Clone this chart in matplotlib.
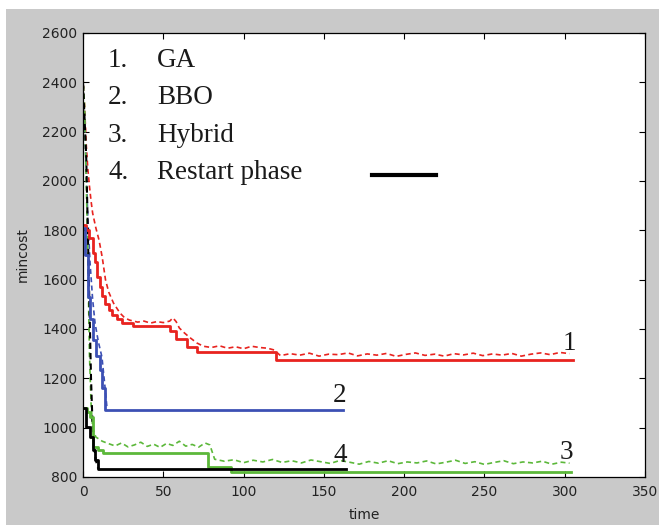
import matplotlib
matplotlib.use("Agg")
import matplotlib.pyplot as plt
from matplotlib.patches import Rectangle

# GA (red)
ga_best_x = [0.5, 2, 4, 6, 7.5, 9, 10.6, 12, 14, 16, 18, 21, 24, 31, 54, 58, 65, 71, 120, 305]
ga_best_y = [1820, 1800, 1770, 1710, 1670, 1610, 1570, 1535, 1500, 1475, 1458, 1440, 1425, 1412, 1390, 1360, 1328, 1305, 1275, 1275]
ga_mean_x = [0, 1, 2, 3, 4, 5, 6, 8, 10, 12, 14, 16, 19, 23, 26, 29, 34, 38, 42, 46, 50, 54, 56, 58, 60, 63, 66, 71, 75, 80, 85, 90, 95, 100, 105, 110, 115, 119,
             123, 129, 135, 141, 147, 153, 159, 165, 171, 177, 183, 189, 195, 201, 207, 213, 219, 225, 231, 237, 243, 249, 255, 261, 267, 273, 279, 285, 291, 297, 303]
ga_mean_y = [2420, 2300, 2150, 2050, 1980, 1920, 1870, 1810, 1760, 1690, 1600, 1550, 1505, 1465, 1445, 1436, 1428, 1432, 1424, 1430, 1426, 1432, 1445, 1430, 1404, 1385, 1368, 1343, 1330, 1325, 1332, 1322, 1328, 1320, 1330, 1325, 1322, 1315,
             1292, 1300, 1294, 1302, 1290, 1298, 1296, 1303, 1291, 1299, 1294, 1301, 1289, 1297, 1303, 1293, 1298, 1290, 1300, 1295, 1302, 1292, 1299, 1294, 1301, 1290, 1298, 1303, 1296, 1305, 1300]

# BBO (blue)
bbo_best_x = [0.5, 1.5, 3, 4.5, 6.2, 8, 10.6, 12, 13.7, 162]
bbo_best_y = [1810, 1700, 1530, 1440, 1355, 1290, 1234, 1160, 1072, 1072]
bbo_mean_x = [0, 1, 2, 3, 4.4, 6, 7.5, 9.5, 11.8, 13.7, 15]
bbo_mean_y = [2420, 2250, 2050, 1850, 1667, 1520, 1424, 1350, 1286, 1165, 1076]

# Hybrid (green)
hyb_best_x = [0.3, 2.5, 4.4, 6.2, 9.3, 12.5, 78, 92, 304]
hyb_best_y = [1080, 1063, 1043, 920, 909, 898, 840, 822, 822]
hyb_mean_x = [0, 1, 2, 3, 4, 5, 6, 8, 12, 16, 20, 24, 28, 32, 36, 40, 44, 48, 52, 56, 60, 64, 68, 72, 76, 79,
              82, 88, 94, 100, 106, 112, 118, 124, 130, 136, 142, 148, 154, 160, 166, 172, 178, 184, 190, 196, 202, 208,
              214, 220, 226, 232, 238, 244, 250, 256, 262, 268, 274, 280, 286, 292, 298, 303]
hyb_mean_y = [2420, 2300, 2000, 1700, 1300, 1100, 1000, 962, 945, 935, 926, 938, 922, 930, 941, 924, 933, 920, 936, 928, 945, 925, 932, 921, 938, 930,
              872, 864, 870, 858, 868, 861, 871, 859, 866, 857, 869, 862, 855, 867, 860, 852, 863, 856, 866, 854, 861, 857,
              865, 853, 860, 868, 855, 862, 851, 859, 866, 854, 861, 857, 864, 852, 860, 856]

# Restart phase (black)
rst_best_x = [0.3, 1.9, 4.4, 6, 7.5, 9.3, 164]
rst_best_y = [1080, 1003, 962, 909, 869, 833, 833]
rst_mean_x = [0, 2, 3, 4, 5, 6, 7, 8, 9, 10]
rst_mean_y = [2400, 2100, 1800, 1500, 1200, 1000, 920, 870, 840, 833]

legend_nums = ["1.", "2.", "3.", "4."]
legend_names = ["GA", "BBO", "Hybrid", "Restart phase"]
curve_tags = ["1", "2", "3", "4"]
tag_x = [303, 160, 301, 160]
tag_y = [1343, 1132, 901, 889]

red = "#e8231f"
blue = "#3c50b4"
green = "#5cb83a"
black = "#000000"

fig = plt.figure(figsize=(6.59, 5.25), dpi=100)
fig.patch.set_facecolor("white")
fig.add_artist(Rectangle((6 / 659, 0), 1, (525 - 9) / 525, transform=fig.transFigure,
                         facecolor="#c9c9c9", edgecolor="none", zorder=-10))
ax = fig.add_axes([83 / 659, 48 / 525, 562 / 659, 444 / 525])
ax.set_facecolor("white")

dash = (0, (3, 2))
ax.plot(ga_mean_x, ga_mean_y, color=red, lw=1.2, linestyle=dash)
ax.plot(bbo_mean_x, bbo_mean_y, color=blue, lw=1.2, linestyle=dash)
ax.plot(hyb_mean_x, hyb_mean_y, color=green, lw=1.2, linestyle=dash)
ax.plot(rst_mean_x, rst_mean_y, color=black, lw=1.5, linestyle=dash)

ax.plot(ga_best_x, ga_best_y, color=red, lw=2, drawstyle="steps-post")
ax.plot(bbo_best_x, bbo_best_y, color=blue, lw=2, drawstyle="steps-post")
ax.plot(hyb_best_x, hyb_best_y, color=green, lw=2, drawstyle="steps-post")
ax.plot(rst_best_x, rst_best_y, color=black, lw=2, drawstyle="steps-post")

ax.set_xlim(0, 350)
ax.set_ylim(800, 2600)
ax.set_xticks(range(0, 351, 50))
ax.set_yticks(range(800, 2601, 200))
ax.tick_params(direction="in", top=True, right=True, length=4, width=0.8, labelsize=10)
ax.tick_params(axis="x", pad=6)
ax.tick_params(axis="y", pad=4)
for lab in ax.get_xticklabels() + ax.get_yticklabels():
    lab.set_family("DejaVu Sans")
    lab.set_color("#222222")
for s in ax.spines.values():
    s.set_linewidth(0.9)

ax.set_xlabel("time", fontsize=10, family="DejaVu Sans", labelpad=6, color="#222222")
ax.set_ylabel("mincost", fontsize=10, family="DejaVu Sans", labelpad=9, color="#222222")

row_y = [0.939, 0.854, 0.770, 0.685]
for num, name, yy in zip(legend_nums, legend_names, row_y):
    ax.text(0.0445, yy, num, transform=ax.transAxes, fontsize=19.5, family="Liberation Serif", va="center", color="#1a1a1a")
    ax.text(0.132, yy, name, transform=ax.transAxes, fontsize=19.5, family="Liberation Serif", va="center", color="#1a1a1a")
ax.plot([0.514, 0.628], [0.68, 0.68], transform=ax.transAxes, color="black", lw=3)

for t, xx, yy in zip(curve_tags, tag_x, tag_y):
    ax.text(xx, yy, t, fontsize=19.5, family="Liberation Serif", ha="center", va="center", color="#1a1a1a")

fig.savefig("out.png", dpi=100, facecolor=fig.get_facecolor())
